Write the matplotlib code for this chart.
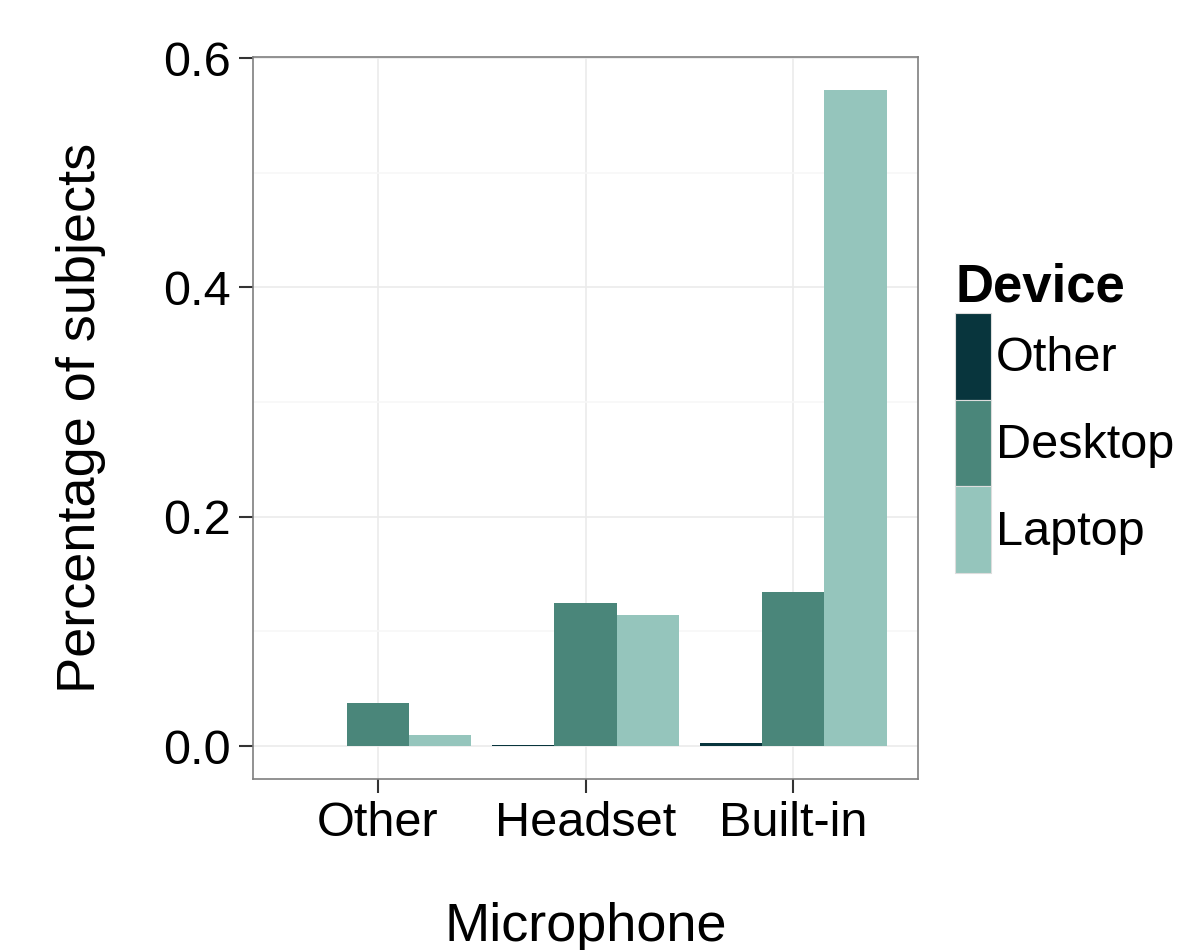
import numpy as np
import matplotlib
matplotlib.use("Agg")
import matplotlib.pyplot as plt
from matplotlib.ticker import MultipleLocator, FormatStrFormatter

plt.rcParams["font.family"] = ["Liberation Sans", "DejaVu Sans"]

# data
microphones = ["Other", "Headset", "Built-in"]
devices = ["Other", "Desktop", "Laptop"]
share_other = [0.0, 0.001, 0.0025]
share_desktop = [0.0375, 0.1246, 0.134]
share_laptop = [0.0096, 0.1141, 0.5723]
colors = ["#08353d", "#4a867a", "#95c5bc"]

fig = plt.figure(figsize=(11.8, 9.5), dpi=100)
ax = fig.add_axes([253 / 1180, 171 / 950, 665 / 1180, 722 / 950])

x = np.arange(1, len(microphones) + 1)
w = 0.9 / 3
series = [share_other, share_desktop, share_laptop]
for i, (vals, col, lab) in enumerate(zip(series, colors, devices)):
    ax.bar(x + (i - 1) * w, vals, width=w, color=col, label=lab,
           linewidth=0, zorder=3)

ax.set_xlim(0.4, 3.6)
top = max(share_laptop)
ax.set_ylim(-0.05 * top, 1.05 * top)
ax.set_xticks(x)
ax.set_xticklabels(microphones)
ax.yaxis.set_major_locator(MultipleLocator(0.2))
ax.yaxis.set_minor_locator(MultipleLocator(0.1))
ax.yaxis.set_major_formatter(FormatStrFormatter("%.1f"))

ax.grid(True, which="major", color="#ebebeb", linewidth=1.2, zorder=0)
ax.grid(True, which="minor", axis="y", color="#f7f7f7", linewidth=1.2, zorder=0)
ax.tick_params(which="minor", length=0)
ax.tick_params(which="major", length=10, width=1.5, color="#333333",
               labelsize=35, pad=6)
for s in ax.spines.values():
    s.set_color("#7f7f7f")
    s.set_linewidth(1.2)

ax.set_xlabel("Microphone", fontsize=39, labelpad=40)
ax.set_ylabel("Percentage of subjects", fontsize=39, labelpad=41)

leg = ax.legend(title="Device", loc="center left", bbox_to_anchor=(1.056, 0.5),
                frameon=False, fontsize=35, labelspacing=0, handlelength=0.74,
                handleheight=2.37, handletextpad=0.1, borderpad=0,
                borderaxespad=0, alignment="left")
leg.get_title().set_fontsize(38)
leg.get_title().set_fontweight("bold")
for p in leg.get_patches():
    p.set_edgecolor("#dddddd")
    p.set_linewidth(0.8)

fig.savefig("out.png", dpi=100)
